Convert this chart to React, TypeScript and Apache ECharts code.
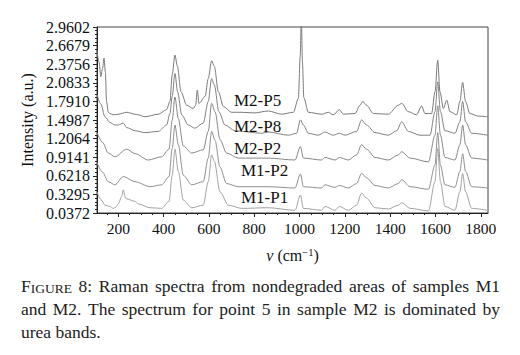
import React, { useEffect, useRef } from "react";
import * as echarts from "echarts";

// ---- data (wavenumber cm^-1, intensity a.u.) ----
const spectrumM2P5: [number, number][] = [
  [105, 2.6], [115, 2.41], [123, 2.18], [130, 2.3], [137, 2.47], [143, 2.25], [148, 1.79], [156, 1.62],
  [163, 1.6], [178, 1.58], [200, 1.59], [237, 1.62], [274, 1.59], [288, 1.58], [318, 1.55], [377, 1.59],
  [413, 1.66], [428, 1.79], [438, 2.21], [450, 2.52], [461, 2.34], [477, 1.94], [502, 1.73], [531, 1.68],
  [541, 1.73], [549, 1.97], [556, 1.76], [583, 1.87], [597, 2.15], [612, 2.43], [624, 2.34], [642, 1.94],
  [664, 1.71], [700, 1.62], [745, 1.62], [800, 1.61], [862, 1.64], [921, 1.59], [973, 1.62], [995, 1.84],
  [1003, 2.5], [1008, 3.1], [1013, 2.4], [1019, 1.85], [1039, 1.62], [1098, 1.59], [1127, 1.62],
  [1149, 1.58], [1176, 1.66], [1193, 1.59], [1245, 1.6], [1267, 1.73], [1279, 1.79], [1296, 1.73],
  [1326, 1.6], [1392, 1.59], [1436, 1.73], [1451, 1.76], [1480, 1.63], [1517, 1.58], [1539, 1.72],
  [1554, 1.6], [1583, 1.6], [1598, 1.94], [1610, 2.44], [1620, 1.94], [1635, 1.68], [1650, 1.81],
  [1664, 1.63], [1694, 1.58], [1708, 1.79], [1720, 2.09], [1733, 1.79], [1752, 1.6], [1789, 1.56], [1830, 1.55],
];
const spectrumM2P8: [number, number][] = [
  [106, 1.9], [123, 1.75], [141, 1.55], [163, 1.46], [185, 1.42], [200, 1.42], [222, 1.45], [237, 1.38],
  [274, 1.33], [318, 1.3], [377, 1.32], [413, 1.42], [428, 1.6], [438, 1.87], [450, 2.23], [462, 1.94],
  [480, 1.58], [509, 1.42], [538, 1.37], [575, 1.45], [597, 1.79], [612, 2.15], [624, 2.05], [644, 1.63],
  [671, 1.42], [715, 1.33], [833, 1.29], [862, 1.31], [951, 1.26], [987, 1.29], [1004, 1.5], [1017, 1.42],
  [1039, 1.29], [1083, 1.26], [1112, 1.31], [1149, 1.26], [1176, 1.29], [1201, 1.26], [1252, 1.32],
  [1274, 1.5], [1296, 1.42], [1333, 1.3], [1392, 1.26], [1429, 1.33], [1451, 1.47], [1480, 1.32],
  [1531, 1.26], [1576, 1.26], [1598, 1.63], [1610, 2.1], [1622, 1.63], [1642, 1.33], [1686, 1.29],
  [1708, 1.47], [1720, 1.79], [1733, 1.47], [1760, 1.29], [1830, 1.26],
];
const spectrumM2P2: [number, number][] = [
  [106, 1.3], [130, 1.15], [156, 0.98], [185, 0.92], [237, 1.04], [274, 0.97], [332, 0.87], [391, 0.92],
  [424, 1.04], [438, 1.5], [450, 1.86], [465, 1.52], [487, 1.09], [524, 0.98], [575, 1.03], [597, 1.32],
  [612, 1.76], [627, 1.63], [649, 1.19], [678, 0.98], [730, 0.9], [862, 0.9], [980, 0.87], [1004, 1.08],
  [1017, 0.9], [1098, 0.87], [1112, 0.91], [1157, 0.87], [1176, 0.91], [1215, 0.87], [1252, 0.95],
  [1274, 1.11], [1296, 1.04], [1333, 0.91], [1392, 0.87], [1436, 0.95], [1451, 1.0], [1488, 0.9],
  [1569, 0.84], [1598, 1.26], [1610, 1.72], [1622, 1.26], [1642, 0.91], [1686, 0.87], [1708, 1.11],
  [1720, 1.42], [1733, 1.11], [1760, 0.9], [1830, 0.87],
];
const spectrumM1P2: [number, number][] = [
  [106, 0.83], [130, 0.68], [156, 0.53], [185, 0.48], [222, 0.61], [274, 0.53], [340, 0.45], [391, 0.48],
  [424, 0.61], [438, 1.05], [450, 1.42], [465, 1.11], [487, 0.63], [524, 0.48], [575, 0.53], [597, 0.9],
  [612, 1.32], [627, 1.18], [649, 0.76], [678, 0.5], [730, 0.45], [862, 0.45], [980, 0.43], [1004, 0.65],
  [1017, 0.45], [1098, 0.43], [1112, 0.48], [1157, 0.44], [1176, 0.47], [1215, 0.43], [1252, 0.5],
  [1274, 0.66], [1296, 0.59], [1333, 0.47], [1392, 0.43], [1436, 0.5], [1451, 0.56], [1488, 0.45],
  [1569, 0.41], [1598, 0.79], [1610, 1.3], [1622, 0.79], [1642, 0.48], [1686, 0.44], [1708, 0.69],
  [1720, 0.97], [1733, 0.69], [1760, 0.45], [1830, 0.43],
];
const spectrumM1P1: [number, number][] = [
  [106, 0.37], [123, 0.25], [141, 0.16], [163, 0.14], [178, 0.11], [190, 0.13], [200, 0.18], [215, 0.3],
  [222, 0.4], [232, 0.27], [237, 0.26], [274, 0.22], [288, 0.18], [340, 0.12], [391, 0.11], [424, 0.22],
  [438, 0.63], [450, 1.04], [465, 0.69], [487, 0.24], [524, 0.12], [575, 0.16], [597, 0.53], [612, 0.95],
  [624, 0.85], [649, 0.37], [686, 0.16], [745, 0.11], [862, 0.12], [980, 0.08], [1004, 0.32], [1017, 0.11],
  [1098, 0.08], [1112, 0.14], [1157, 0.08], [1176, 0.14], [1215, 0.08], [1252, 0.16], [1274, 0.35],
  [1296, 0.27], [1333, 0.12], [1392, 0.1], [1436, 0.16], [1451, 0.2], [1488, 0.11], [1569, 0.07],
  [1598, 0.53], [1610, 1.05], [1622, 0.53], [1642, 0.14], [1686, 0.08], [1708, 0.37], [1720, 0.66],
  [1733, 0.37], [1760, 0.11], [1830, 0.08],
];

const seriesNames = ["M2-P5", "M2-P8", "M2-P2", "M1-P2", "M1-P1"];
const seriesData = [spectrumM2P5, spectrumM2P8, spectrumM2P2, spectrumM1P2, spectrumM1P1];
const seriesColors = ["#7a7a7a", "#808080", "#878787", "#8f8f8f", "#a2a2a2"];

const xTickLabels = [200, 400, 600, 800, 1000, 1200, 1400, 1600, 1800];
const xMinorTicks = [150, 250, 300, 350, 450, 500, 550, 650, 700, 750, 850, 900, 950, 1050, 1100, 1150,
  1250, 1300, 1350, 1450, 1500, 1550, 1650, 1700, 1750];
const yTickLabels = [0.0372, 0.3295, 0.6218, 0.9141, 1.2064, 1.4987, 1.791, 2.0833, 2.3756, 2.6679, 2.9602];

const captionLine1 = "8: Raman spectra from nondegraded areas of samples M1";
const captionLine2 = "and M2. The spectrum for point 5 in sample M2 is dominated by";
const captionLine3 = "urea bands.";

const X_MIN = 106;
const X_MAX = 1832;

const FONT = "'Liberation Serif', 'DejaVu Serif', serif";
const CAP_SIZE = 17.5;
const SC_SIZE = 13.5;

export default function App() {
  const ref = useRef<HTMLDivElement>(null);
  useEffect(() => {
    document.body.style.margin = "0";
    const chart = echarts.init(ref.current!, null, { renderer: "svg" });

    const canvas = document.createElement("canvas");
    const ctx = canvas.getContext("2d")!;
    const measure = (t: string, size: number) => {
      ctx.font = `${size}px 'Liberation Serif'`;
      return ctx.measureText(t).width;
    };

    const capLeft = 21;
    const capRight = 500;
    const caption: any[] = [];
    const justify = (words: { text: string; width: number; el: (x: number) => any }[]) => {
      const total = words.reduce((s, w) => s + w.width, 0);
      const gap = (capRight - capLeft - total) / (words.length - 1);
      let x = capLeft;
      words.forEach((w) => {
        caption.push(w.el(x));
        x += w.width + gap;
      });
    };
    const plainWord = (t: string, top: number) => ({
      text: t,
      width: measure(t, CAP_SIZE),
      el: (x: number) => ({
        type: "text", x, y: top,
        style: { text: t, fontFamily: FONT, fontSize: CAP_SIZE, fill: "#222", textVerticalAlign: "middle" },
      }),
    });
    const top1 = 286, top2 = 309, top3 = 332;
    const figWord = {
      text: "FIGURE",
      width: measure("F", CAP_SIZE) + measure("IGURE", SC_SIZE),
      el: (x: number) => ({
        type: "text", x, y: top1,
        style: {
          text: "{big|F}{sc|IGURE}", fontFamily: FONT, fontSize: CAP_SIZE, fill: "#222",
          textVerticalAlign: "middle",
          rich: {
            big: { fontFamily: FONT, fontSize: CAP_SIZE, fill: "#222", verticalAlign: "bottom" },
            sc: { fontFamily: FONT, fontSize: SC_SIZE, fill: "#222", verticalAlign: "bottom" },
          },
        },
      }),
    };
    justify([figWord, ...captionLine1.split(" ").map((w) => plainWord(w, top1))]);
    justify(captionLine2.split(" ").map((w) => plainWord(w, top2)));
    caption.push({
      type: "text", x: capLeft, y: top3,
      style: { text: captionLine3, fontFamily: FONT, fontSize: CAP_SIZE, fill: "#222", textVerticalAlign: "middle" },
    });

    const yMinor: number[] = [];
    for (let i = 0; i < yTickLabels.length - 1; i++) {
      const step = (yTickLabels[i + 1] - yTickLabels[i]) / 5;
      for (let k = 1; k < 5; k++) yMinor.push(yTickLabels[i] + step * k);
    }
    const labelPos = [
      [234, 100], [234, 126], [234, 148], [241, 170], [241, 197],
    ];
    chart.setOption({
      animation: false,
      backgroundColor: "#ffffff",
      grid: { left: 97, top: 27, right: 32, bottom: 142, show: true, borderColor: "#444", borderWidth: 1 },
      xAxis: [
        {
          type: "value", min: X_MIN, max: X_MAX,
          name: "{i|ν} (cm{sup|−1})", nameLocation: "middle", nameGap: 34,
          nameTextStyle: {
            fontFamily: FONT, fontSize: 16, color: "#111", verticalAlign: "top",
            rich: {
              i: { fontFamily: FONT, fontSize: 16, fontStyle: "italic", color: "#111" },
              sup: { fontFamily: FONT, fontSize: 10.5, verticalAlign: "top", color: "#111" },
            },
          },
          axisLine: { show: true, lineStyle: { color: "#222", width: 1 } },
          axisTick: { show: true, customValues: xTickLabels, length: 4, lineStyle: { color: "#222" } },
          axisLabel: {
            customValues: xTickLabels, fontFamily: FONT, fontSize: 15.5, color: "#111", margin: 7,
            formatter: (v: number) => String(Math.round(v)),
          },
          splitLine: { show: false },
        },
        {
          type: "value", min: X_MIN, max: X_MAX, position: "bottom",
          axisLine: { show: false },
          axisTick: { show: true, customValues: xMinorTicks, length: 2, lineStyle: { color: "#222" } },
          axisLabel: { show: false },
          splitLine: { show: false },
        },
      ],
      yAxis: [
        {
          type: "value", min: yTickLabels[0], max: yTickLabels[yTickLabels.length - 1],
          name: "Intensity (a.u.)", nameLocation: "middle", nameGap: 57, nameRotate: 90,
          nameTextStyle: { fontFamily: FONT, fontSize: 16, color: "#111" },
          axisLine: { show: true, lineStyle: { color: "#222", width: 1 } },
          axisTick: { show: true, customValues: yTickLabels, length: 4, lineStyle: { color: "#222" } },
          axisLabel: {
            customValues: yTickLabels, fontFamily: FONT, fontSize: 16, color: "#111", margin: 7,
            formatter: (v: number) => v.toFixed(4),
          },
          splitLine: { show: false },
        },
        {
          type: "value", min: yTickLabels[0], max: yTickLabels[yTickLabels.length - 1], position: "left",
          axisLine: { show: false },
          axisTick: { show: true, customValues: yMinor, length: 2, lineStyle: { color: "#222" } },
          axisLabel: { show: false },
          splitLine: { show: false },
        },
      ],
      series: seriesData.map((d, i) => ({
        name: seriesNames[i],
        type: "line",
        data: d,
        xAxisIndex: 0,
        yAxisIndex: 0,
        showSymbol: false,
        symbol: "none",
        smooth: 0.3,
        smoothMonotone: "x",
        clip: true,
        lineStyle: { color: seriesColors[i], width: 1 },
        z: 2,
      })),
      graphic: [
        ...seriesNames.map((n, i) => ({
          type: "text",
          x: labelPos[i][0],
          y: labelPos[i][1],
          z: 10,
          style: { text: n, fontFamily: FONT, fontSize: 17, fill: "#111", textVerticalAlign: "middle" },
        })),
        ...caption,
      ],
    });
    return () => chart.dispose();
  }, []);
  return <div ref={ref} style={{ width: 520, height: 355 }} />;
}
